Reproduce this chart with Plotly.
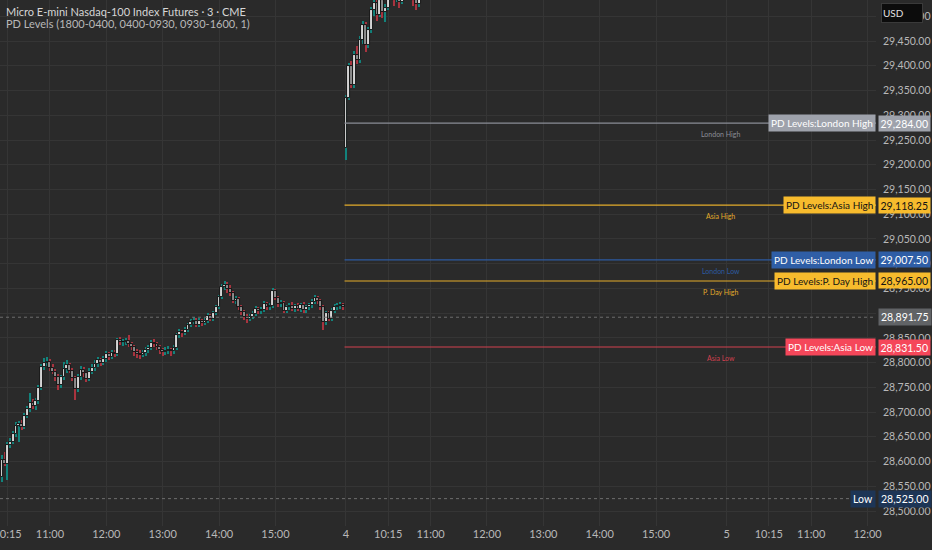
import plotly.graph_objects as go

# 3-minute bars, index counted from 09:30 of the first session (135 bars per 09:30-16:15 session)
bars_per_session = 135
day1_first_bar = 13

day1_open = [28569, 28603, 28596, 28634, 28640, 28656, 28672, 28676, 28670, 28692, 28706, 28718, 28712, 28722,
             28748, 28792, 28800, 28802, 28790, 28782, 28770, 28754, 28770, 28788, 28796, 28784, 28768, 28746,
             28770, 28786, 28778, 28766, 28782, 28790, 28798, 28806, 28800, 28808, 28818, 28812, 28820, 28818,
             28845, 28841, 28842, 28844, 28838, 28832, 28822, 28818, 28816, 28820, 28825, 28830, 28840, 28838,
             28832, 28826, 28822, 28824, 28826, 28824, 28830, 28856, 28862, 28860, 28866, 28876, 28882, 28884,
             28877, 28885, 28880, 28884, 28895, 28888, 28900, 28912, 28932, 28952, 28957, 28948, 28940, 28925,
             28928, 28912, 28902, 28892, 28888, 28892, 28898, 28908, 28904, 28906, 28918, 28912, 28915, 28944,
             28930, 28918, 28920, 28905, 28912, 28915, 28908, 28914, 28908, 28916, 28906, 28912, 28916, 28922,
             28930, 28924, 28912, 28882, 28900, 28888, 28905, 28912, 28914, 28916]
day1_high = [28613, 28620, 28640, 28648, 28662, 28680, 28682, 28684, 28698, 28712, 28738, 28726, 28728, 28754,
             28798, 28810, 28812, 28808, 28798, 28788, 28776, 28774, 28802, 28806, 28800, 28790, 28772, 28776,
             28794, 28792, 28782, 28790, 28798, 28806, 28812, 28810, 28814, 28824, 28822, 28826, 28826, 28850,
             28852, 28848, 28850, 28856, 28842, 28836, 28828, 28826, 28826, 28832, 28836, 28846, 28848, 28842,
             28836, 28830, 28832, 28834, 28830, 28836, 28860, 28868, 28866, 28872, 28880, 28888, 28892, 28890,
             28890, 28888, 28890, 28900, 28898, 28904, 28916, 28936, 28958, 28964, 28962, 28956, 28944, 28934,
             28932, 28916, 28906, 28898, 28898, 28904, 28914, 28912, 28912, 28924, 28922, 28920, 28950, 28948,
             28934, 28926, 28924, 28916, 28920, 28922, 28918, 28920, 28920, 28922, 28916, 28920, 28928, 28936,
             28934, 28928, 28916, 28904, 28904, 28910, 28918, 28920, 28922, 28920]
day1_low = [28559, 28590, 28562, 28628, 28636, 28650, 28640, 28664, 28666, 28688, 28700, 28706, 28704, 28716,
            28744, 28786, 28794, 28784, 28776, 28762, 28744, 28748, 28764, 28780, 28778, 28762, 28724, 28740,
            28764, 28770, 28760, 28762, 28776, 28784, 28792, 28794, 28796, 28802, 28806, 28808, 28812, 28814,
            28836, 28834, 28836, 28832, 28826, 28814, 28810, 28808, 28812, 28814, 28820, 28826, 28832, 28826,
            28818, 28814, 28816, 28818, 28814, 28818, 28826, 28850, 28852, 28856, 28862, 28872, 28878, 28872,
            28872, 28874, 28876, 28880, 28884, 28884, 28896, 28908, 28928, 28946, 28940, 28934, 28920, 28918,
            28906, 28896, 28886, 28880, 28884, 28888, 28894, 28898, 28898, 28902, 28906, 28906, 28910, 28926,
            28912, 28912, 28900, 28900, 28906, 28904, 28902, 28904, 28902, 28900, 28900, 28906, 28910, 28918,
            28918, 28906, 28866, 28876, 28884, 28884, 28900, 28906, 28908, 28906]
day1_close = [28603, 28596, 28634, 28640, 28656, 28672, 28676, 28670, 28692, 28706, 28718, 28712, 28722, 28748,
              28792, 28800, 28802, 28790, 28782, 28770, 28754, 28770, 28788, 28796, 28784, 28768, 28746, 28770,
              28786, 28778, 28766, 28782, 28790, 28798, 28806, 28800, 28808, 28818, 28812, 28820, 28818, 28845,
              28841, 28842, 28844, 28838, 28832, 28822, 28818, 28816, 28820, 28825, 28830, 28840, 28838, 28832,
              28826, 28822, 28824, 28826, 28824, 28830, 28856, 28862, 28860, 28866, 28876, 28882, 28884, 28877,
              28885, 28880, 28884, 28895, 28888, 28900, 28912, 28932, 28952, 28957, 28948, 28940, 28925, 28928,
              28912, 28902, 28892, 28888, 28892, 28898, 28908, 28904, 28906, 28918, 28912, 28915, 28944, 28930,
              28918, 28920, 28905, 28912, 28915, 28908, 28914, 28908, 28916, 28906, 28912, 28916, 28922, 28930,
              28924, 28912, 28882, 28900, 28888, 28905, 28912, 28914, 28916, 28912]

day4_open = [29234, 29335, 29400, 29361, 29422, 29412, 29452, 29482, 29442, 29472, 29513, 29527, 29503, 29533,
             29509, 29517, 29543, 29553, 29533, 29549, 29529, 29545, 29553, 29541, 29549, 29533, 29525, 29537, 29545]
day4_high = [29341, 29406, 29410, 29430, 29440, 29460, 29490, 29488, 29478, 29518, 29535, 29532, 29540, 29538,
             29524, 29550, 29560, 29558, 29556, 29552, 29550, 29560, 29558, 29556, 29552, 29540, 29544, 29552, 29560]
day4_low = [29210, 29330, 29355, 29356, 29404, 29406, 29444, 29428, 29436, 29466, 29500, 29490, 29498, 29496,
            29488, 29512, 29536, 29520, 29528, 29516, 29524, 29540, 29534, 29536, 29520, 29512, 29518, 29532, 29540]
day4_close = [29335, 29400, 29361, 29422, 29412, 29452, 29482, 29442, 29472, 29513, 29527, 29503, 29533, 29509,
              29517, 29543, 29553, 29533, 29549, 29529, 29545, 29553, 29541, 29549, 29533, 29525, 29537, 29545, 29553]

# PD levels
level_names = ["London High", "Asia High", "London Low", "P. Day High", "Asia Low"]
level_values = [29284.00, 29118.25, 29007.50, 28965.00, 28831.50]
level_line_colors = ["#8a8d96", "#e3ac2b", "#2c5aa0", "#e3ac2b", "#d2404f"]
level_tag_colors = ["#9ea2ab", "#f7bb2d", "#2f5ea6", "#f7bb2d", "#f5475a"]
level_text_colors = ["#ffffff", "#131313", "#ffffff", "#131313", "#ffffff"]

prev_close = 28891.75
range_low = 28525.00

tick_bars = [15, 30, 50, 70, 90, 110, 135, 150, 165, 185, 205, 225, 245, 270, 285, 300, 320]
tick_labels = ["10:15", "11:00", "12:00", "13:00", "14:00", "15:00", "4", "10:15", "11:00",
               "12:00", "13:00", "14:00", "15:00", "5", "10:15", "11:00", "12:00"]

opens = day1_open + day4_open
highs = day1_high + day4_high
lows = day1_low + day4_low
closes = day1_close + day4_close
day4_first_bar = bars_per_session
xs = list(range(day1_first_bar, day1_first_bar + len(day1_close))) + \
     list(range(day4_first_bar, day4_first_bar + len(day4_close)))

x_min, x_max = 12.3, 323.0
bg = "#2a2a2a"
font_family = "Lato, Liberation Sans, Arial, sans-serif"

up = [c >= o for o, c in zip(opens, closes)]
wick_colors = ["#12837c" if u else "#a8343f" for u in up]
body_colors = ["#d4d4d4" if u else "#8c8c8c" for u in up]

fig = go.Figure()
fig.add_trace(go.Bar(
    x=xs, y=[h - l for h, l in zip(highs, lows)], base=lows, width=0.45,
    marker=dict(color=wick_colors, line=dict(width=0)), hoverinfo="skip", showlegend=False,
))
fig.add_trace(go.Bar(
    x=xs, y=[max(abs(c - o), 0.8) for o, c in zip(opens, closes)],
    base=[min(o, c) for o, c in zip(opens, closes)], width=1.0,
    marker=dict(color=body_colors, line=dict(color="#0c0c0c", width=0.9)),
    hoverinfo="skip", showlegend=False,
))

shapes = []
annotations = []

# dotted reference lines across the whole pane
for val, tag, tag_bg in [(prev_close, None, "#616366"), (range_low, "Low", "#1d3556")]:
    shapes.append(dict(type="line", xref="x", yref="y", x0=x_min, x1=x_max, y0=val, y1=val,
                       line=dict(color="#6e6e6e", width=1, dash="dot")))
    annotations.append(dict(xref="paper", yref="y", x=1, y=val, xanchor="left", xshift=2,
                            text=f"{val:,.2f}", showarrow=False, bgcolor=tag_bg, borderpad=2,
                            font=dict(color="#ffffff", size=10.5, family=font_family)))
    if tag:
        annotations.append(dict(xref="paper", yref="y", x=1, y=val, xanchor="right",
                                text=tag, showarrow=False, bgcolor=tag_bg, borderpad=2,
                                font=dict(color="#ffffff", size=10.5, family=font_family)))

for name, val, lc, tc, txc in zip(level_names, level_values, level_line_colors,
                                  level_tag_colors, level_text_colors):
    shapes.append(dict(type="line", xref="x", yref="y", x0=day4_first_bar - 0.5, x1=x_max,
                       y0=val, y1=val, line=dict(color=lc, width=1.2)))
    annotations.append(dict(xref="paper", yref="y", x=1, y=val, xanchor="right",
                            text="PD Levels:" + name, showarrow=False, bgcolor=tc, borderpad=2,
                            font=dict(color=txc, size=10, family=font_family)))
    annotations.append(dict(xref="paper", yref="y", x=1, y=val, xanchor="left", xshift=2,
                            text=f"{val:,.2f}", showarrow=False, bgcolor=tc, borderpad=1.5,
                            font=dict(color=txc, size=10.5, family=font_family)))
    annotations.append(dict(xref="x", yref="y", x=268, y=val, yshift=-11,
                            text=name, showarrow=False,
                            font=dict(color=lc, size=7, family=font_family)))

annotations.append(dict(xref="paper", yref="paper", x=0, y=1, xanchor="left", yanchor="top",
                        xshift=4, yshift=-3, align="left", showarrow=False,
                        text="Micro E-mini Nasdaq-100 Index Futures · 3 · CME",
                        font=dict(color="#d6d6d6", size=11, family=font_family)))
annotations.append(dict(xref="paper", yref="paper", x=0, y=1, xanchor="left", yanchor="top",
                        xshift=4, yshift=-15, align="left", showarrow=False,
                        text="PD Levels (1800-0400, 0400-0930, 0930-1600, 1)",
                        font=dict(color="#b8b8b8", size=11, family=font_family)))
annotations.append(dict(xref="paper", yref="paper", x=1, y=1, xanchor="left", yanchor="top",
                        xshift=5, yshift=-3, showarrow=False, text="USD", align="left",
                        width=38, height=16, bgcolor="#0c0c0c", bordercolor="#3a3a3a",
                        borderwidth=1, borderpad=1,
                        font=dict(color="#e0e0e0", size=10, family=font_family)))

fig.update_layout(
    width=932, height=550,
    margin=dict(l=0, r=56, t=0, b=24),
    paper_bgcolor=bg, plot_bgcolor=bg,
    barmode="overlay", bargap=0,
    showlegend=False,
    shapes=shapes,
    annotations=annotations,
    font=dict(family=font_family, color="#b8b8b8"),
    xaxis=dict(range=[x_min, x_max], tickvals=tick_bars, ticktext=tick_labels,
               showgrid=True, gridcolor="#353535", gridwidth=1, zeroline=False,
               showline=False, ticks="", ticklabeloverflow="allow", automargin=False,
               tickfont=dict(size=11, color="#b8b8b8")),
    yaxis=dict(range=[28469.7, 29533], side="right", dtick=50, tick0=28500,
               tickformat=",.2f", showgrid=True, gridcolor="#353535", gridwidth=1,
               zeroline=False, showline=False, ticks="", ticklabelstandoff=6, automargin=False,
               tickfont=dict(size=10.5, color="#b8b8b8")),
)

fig.write_html("out.html", config={"displayModeBar": False},
               post_script="document.body.style.margin='0';document.body.style.background='#2a2a2a';")
